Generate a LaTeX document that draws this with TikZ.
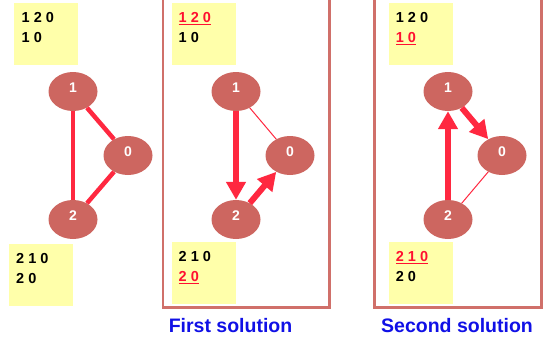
\documentclass[tikz,border=0pt]{standalone}
\usepackage{fontspec}
\setmainfont{Liberation Sans}
\usetikzlibrary{shapes.geometric,arrows.meta,calc}
\definecolor{nodefill}{RGB}{205,102,96}
\definecolor{edgered}{RGB}{255,40,64}
\definecolor{txtred}{RGB}{255,16,48}
\definecolor{notey}{RGB}{255,255,170}
\definecolor{frameC}{RGB}{208,112,106}
\definecolor{titleblue}{RGB}{16,16,230}
\newcommand{\redul}[1]{\textcolor{txtred}{\underline{#1}}}
\begin{document}
\begin{tikzpicture}[x=1pt,y=-1pt,
 vert/.style={ellipse,fill=nodefill,minimum width=49pt,minimum height=39pt,inner sep=0pt,text=white,text height=10pt,text depth=8pt,font=\fontsize{14}{16}\selectfont\bfseries},
 note/.style={fill=notey,minimum width=64pt,minimum height=62pt,inner sep=0pt,anchor=north west},
 noteline/.style={anchor=base west,inner sep=0pt,font=\fontsize{14.5}{17}\selectfont\bfseries},
 thickedge/.style={draw=edgered,line width=4.5pt},
 thinedge/.style={draw=edgered,line width=1pt},
 arrowedge/.style={draw=edgered,line width=6pt,-{Triangle[width=19pt,length=18pt]}},
 frame/.style={draw=frameC,line width=2.2pt},
 title/.style={font=\fontsize{19.5}{22}\selectfont\bfseries,text=titleblue,anchor=base,inner sep=0pt}]
\useasboundingbox (0,0) rectangle (545,337);
% frames
\draw[frame] (163,-10) rectangle (329.5,307.5);
\draw[frame] (374.5,-10) rectangle (541.5,307.5);
% notes panel 1
\node[note] (nA1) at (14,3) {};
\node[noteline] (tA1a) at ($(nA1.north west)+(7.5,19.7)$) {1 2 0};
\node[noteline] (tA1b) at ($(nA1.north west)+(7.5,39.7)$) {1 0};
\node[note] (nA2) at (9,244) {};
\node[noteline] (tA2a) at ($(nA2.north west)+(7,19.7)$) {2 1 0};
\node[noteline] (tA2b) at ($(nA2.north west)+(7,39.7)$) {2 0};
% notes panel 2
\node[note] (nB1) at (172,3) {};
\node[noteline] (tB1a) at ($(nB1.north west)+(6.5,19.7)$) {\redul{1 2 0}};
\node[noteline] (tB1b) at ($(nB1.north west)+(6.5,39.7)$) {1 0};
\node[note] (nB2) at (172,242) {};
\node[noteline] (tB2a) at ($(nB2.north west)+(6.5,19.7)$) {2 1 0};
\node[noteline] (tB2b) at ($(nB2.north west)+(6.5,39.7)$) {\redul{2 0}};
% notes panel 3
\node[note] (nC1) at (389,3) {};
\node[noteline] (tC1a) at ($(nC1.north west)+(6.7,19.7)$) {1 2 0};
\node[noteline] (tC1b) at ($(nC1.north west)+(6.7,39.7)$) {\redul{1 0}};
\node[note] (nC2) at (389,242) {};
\node[noteline] (tC2a) at ($(nC2.north west)+(6.7,19.7)$) {\redul{2 1 0}};
\node[noteline] (tC2b) at ($(nC2.north west)+(6.7,39.7)$) {2 0};
% vertices
\node[vert] (a1) at (73,91.5) {1};
\node[vert] (a0) at (128,155.5) {0};
\node[vert] (a2) at (73,219.5) {2};
\node[vert] (b1) at (236,91.5) {1};
\node[vert] (b0) at (290,155.5) {0};
\node[vert] (b2) at (236,219.5) {2};
\node[vert] (c1) at (448,91.5) {1};
\node[vert] (c0) at (502,155.5) {0};
\node[vert] (c2) at (448,219.5) {2};
% edges panel 1
\draw[thickedge] (a1) -- (a2);
\draw[thickedge] (a1) -- (a0);
\draw[thickedge] (a2) -- (a0);
% edges panel 2
\draw[thinedge] (b1) -- (b0);
\draw[arrowedge] (b1) -- (b2);
\draw[arrowedge] (b2) -- (b0);
% edges panel 3
\draw[thinedge] (c2) -- (c0);
\draw[arrowedge] (c2) -- (c1);
\draw[arrowedge] (c1) -- (c0);
% titles
\node[title] (t1) at (230.5,332.3) {First solution};
\node[title] (t2) at (457,332.3) {Second solution};
\end{tikzpicture}
\end{document}
